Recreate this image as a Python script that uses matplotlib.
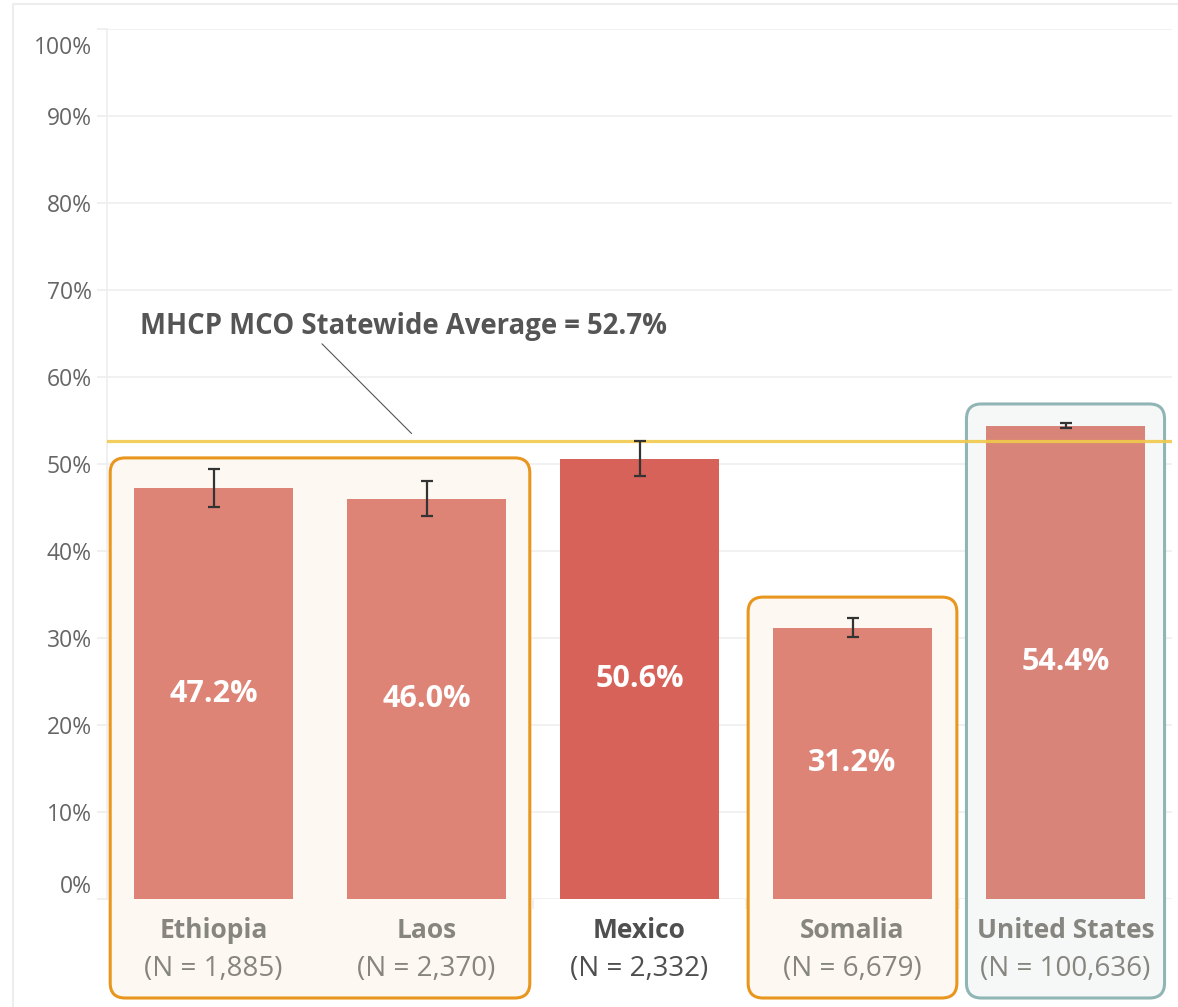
import numpy as np
import matplotlib.pyplot as plt
from matplotlib.patches import FancyBboxPatch
from matplotlib.lines import Line2D
from matplotlib.transforms import IdentityTransform, ScaledTranslation

plt.rcParams['font.family'] = ['Open Sans', 'DejaVu Sans']

# ===== Data =====
countries = ["Ethiopia", "Laos", "Mexico", "Somalia", "United States"]
counts = [1885, 2370, 2332, 6679, 100636]
rates = [47.2, 46.0, 50.6, 31.2, 54.4]
ci_low = [45.0, 44.0, 48.6, 30.1, 54.1]
ci_high = [49.4, 48.0, 52.7, 32.3, 54.7]
statewide_avg = 52.7
y_ticks = [0, 10, 20, 30, 40, 50, 60, 70, 80, 90, 100]

# ===== Style =====
bar_colors = ["#DE8476", "#DE8476", "#D6625A", "#DE8476", "#D98479"]
name_colors = ["#878580", "#878580", "#4F4F4F", "#878580", "#878580"]
# highlight boxes: first index, last index, side pad, top pad, edge, fill
groups = [(0, 1, 0.485, 1.3, "#E9961F", "#FDF8F1"),
          (3, 3, 0.49, 2.4, "#E9961F", "#FDF8F1"),
          (4, 4, 0.465, 2.2, "#8FB6B5", "#F6F8F7")]

W, H = 1178, 1007
fig = plt.figure(figsize=(W / 100, H / 100), dpi=100)
ax = fig.add_axes([107 / W, 1 - 899 / H, (1172 - 107) / W, (899 - 29) / H])
ax.patch.set_visible(False)

x = np.arange(len(countries))
ax.set_xlim(-0.5, len(countries) - 0.5)
ax.set_ylim(0, 100)

# ===== Grid / axes =====
ax.set_axisbelow(True)
ax.set_yticks(y_ticks)
ax.set_yticklabels([f"{t}%" for t in y_ticks])
ax.yaxis.grid(True, color="#EFEFEF", lw=1.2, zorder=0)
ax.tick_params(axis="y", length=7, color="#EEEEEE", width=1.2,
               labelsize=16.5, labelcolor="#666666", pad=4)
ax.set_xticks([])
ax.set_xticks(x[:-1] + 0.5, minor=True)
ax.tick_params(axis="x", which="minor", length=7, color="#EEEEEE", width=1.2)
for s in ["top", "right", "bottom"]:
    ax.spines[s].set_visible(False)
ax.spines["left"].set_color("#EEEEEE")
ax.spines["left"].set_linewidth(1.2)
ticks = ax.yaxis.get_major_ticks()
ticks[0].label1.set_verticalalignment("bottom")
ticks[-1].label1.set_verticalalignment("top")
ticks[-1].label1.set_transform(ticks[-1].label1.get_transform()
                               + ScaledTranslation(0, -0.07, fig.dpi_scale_trans))

# ===== Highlight boxes =====
for i0, i1, side, top_pad, ec, fc in groups:
    top = max(ci_high[i0:i1 + 1]) + top_pad
    (px0, py1) = ax.transData.transform((i0 - side, top))
    (px1, _) = ax.transData.transform((i1 + side, top))
    py0 = H - 998
    box = FancyBboxPatch((px0, py0), px1 - px0, py1 - py0,
                         boxstyle="round,pad=0,rounding_size=15",
                         transform=IdentityTransform(), facecolor=fc,
                         edgecolor=ec, lw=2.2, zorder=1, clip_on=False)
    ax.add_artist(box)

# ===== Bars =====
ax.bar(x, rates, width=0.75, color=bar_colors, zorder=3)
r = np.array(rates)
yerr = [r - np.array(ci_low), np.array(ci_high) - r]
ax.errorbar(x, rates, yerr=yerr, fmt="none", ecolor="#333333",
            elinewidth=1.6, capsize=4.5, capthick=1.6, zorder=5)

for i, v in enumerate(rates):
    ax.text(i, v / 2, f"{v:.1f}%", color="white", fontsize=22,
            fontweight="bold", ha="center", va="center", zorder=6)
    ax.text(i, -3.6, countries[i], color=name_colors[i], fontsize=19,
            fontweight="bold", ha="center", va="center", clip_on=False)
    ax.text(i, -8.1, f"(N = {counts[i]:,})", color=name_colors[i],
            fontsize=20, ha="center", va="center", clip_on=False)

# ===== Statewide average =====
ax.axhline(statewide_avg, color="#F0C94B", lw=2.3, alpha=0.9, zorder=4)
ax.annotate(f"MHCP MCO Statewide Average = {statewide_avg}%",
            xy=(0.93, statewide_avg + 0.8), xytext=(-0.345, 65.8),
            ha="left", va="center", fontsize=19.8, fontweight="bold",
            color="#555555",
            arrowprops=dict(arrowstyle="-", color="#555555", lw=0.8,
                            shrinkA=0, shrinkB=0, relpos=(0.34, 0)))

# outer frame
fig.add_artist(Line2D([13 / W, 13 / W, 1], [0, 1 - 4 / H, 1 - 4 / H],
                      transform=fig.transFigure, color="#EDEDED", lw=1.5))

fig.savefig("out.png", dpi=100)
